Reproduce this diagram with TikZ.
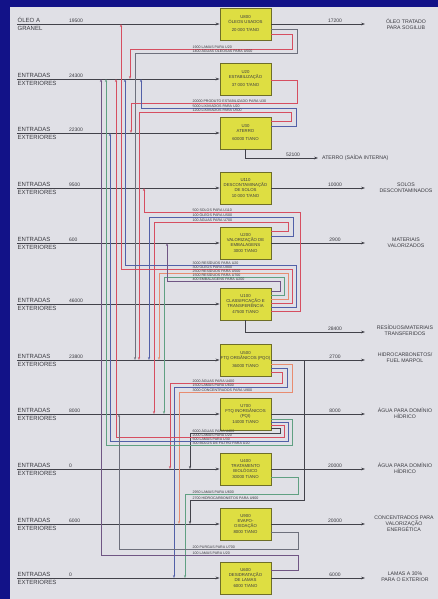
\documentclass[tikz,border=0pt]{standalone}
\usepackage{fontspec}
\setmainfont{Liberation Sans}
\usetikzlibrary{arrows.meta}
\definecolor{bgblue}{RGB}{18,18,136}
\definecolor{paper}{RGB}{224,224,230}
\definecolor{boxfill}{RGB}{222,222,66}
\definecolor{boxedge}{RGB}{110,110,40}
\definecolor{ln}{RGB}{66,66,74}
\definecolor{cred}{RGB}{214,78,96}
\definecolor{cblue}{RGB}{82,96,168}
\definecolor{cgreen}{RGB}{96,160,130}
\definecolor{cpurple}{RGB}{112,86,132}
\definecolor{corange}{RGB}{232,140,112}
\definecolor{cgray}{RGB}{110,112,124}
\definecolor{txt}{RGB}{58,58,64}
\newcommand{\flowline}[9]{%
  \draw[loopln,#1] (#2.east |- 0,#3) -- (#4,#3) -- (#4,#5) -- (#6,#5) -- (#6,0 |- #7);
  \node[lbl] (#9) at (192,#5) {#8};
}
\begin{document}
\begin{tikzpicture}[x=1pt,y=-1pt,
  unitbox/.style={draw=boxedge, line width=0.9pt, fill=boxfill, minimum width=51pt,
    minimum height=32pt, inner sep=0pt, align=center, text=txt,
    font=\fontsize{4.3}{5}\selectfont},
  mainln/.style={draw=ln, line width=0.85pt},
  arr/.style={-{Stealth[length=4pt,width=2.8pt]}},
  loopln/.style={line width=0.7pt,-{Stealth[length=3pt,width=2.2pt]}},
  lbl/.style={font=\fontsize{3.6}{4}\selectfont, text=txt, inner sep=0.3pt, anchor=south west},
  inl/.style={font=\fontsize{6}{6.5}\selectfont, text=txt, inner sep=0.5pt},
  num/.style={font=\fontsize{5}{5.5}\selectfont, text=txt, inner sep=0.8pt, anchor=south},
  outl/.style={font=\fontsize{5.2}{6}\selectfont, text=txt, align=center, inner sep=0pt}]
\useasboundingbox (0,0) rectangle (438,599);
\fill[bgblue] (0,0) rectangle (438,599);
\fill[paper] (10,7) rectangle (438,599);

% units
\node[unitbox] (u1) at (245.5,24) {U800\\ÓLEOS USADOS\\[3pt]20 000 T/ANO};
\node[unitbox] (u2) at (245.5,79) {U20\\ESTABILIZAÇÃO\\[3pt]37 000 T/ANO};
\node[unitbox] (u3) at (245.5,133) {U30\\ATERRO\\[3pt]60000 T/ANO};
\node[unitbox] (u4) at (245.5,188) {U110\\DESCONTAMINAÇÃO\\DE SOLOS\\[1.5pt]10 000 T/ANO};
\node[unitbox] (u5) at (245.5,243) {U200\\VALORIZAÇÃO DE\\EMBALAGENS\\[1.5pt]3000 T/ANO};
\node[unitbox] (u6) at (245.5,304) {U100\\CLASSIFICAÇÃO E\\TRANSFERÊNCIA\\[1.5pt]47500 T/ANO};
\node[unitbox] (u7) at (245.5,360) {U500\\FTQ ORGÂNICOS (PQO)\\[3pt]36000 T/ANO};
\node[unitbox] (u8) at (245.5,414) {U700\\FTQ INORGÂNICOS\\(PQI)\\[1.5pt]14000 T/ANO};
\node[unitbox] (u9) at (245.5,469) {U400\\TRATAMENTO\\BIOLÓGICO\\[1.5pt]30000 T/ANO};
\node[unitbox] (u10) at (245.5,524) {U900\\EVAPO-\\OXIDAÇÃO\\[1.5pt]8000 T/ANO};
\node[unitbox] (u11) at (245.5,578) {U600\\DESIDRATAÇÃO\\DE LAMAS\\[1.5pt]6000 T/ANO};

% inputs
\foreach \r/\yy/\nn in {1/24/19500,2/79/24300,3/133/22300,4/188/9500,5/243/600,6/304/46000,
                        7/360/23800,8/414/8000,9/469/0,10/524/6000,11/578/0}{
  \coordinate (in\r) at (17,\yy);
  \draw[mainln,arr] (in\r) -- (u\r.west);
  \node[num,anchor=south west] (n\r) at (68,\yy) {\nn};
}
\node[inl,anchor=south west] (la1) at (17,23) {ÓLEO A};
\node[inl,anchor=north west] (lb1) at (17,25.5) {GRANEL};
\foreach \r/\yy in {2/79,3/133,4/188,5/243,6/304,7/360,8/414,9/469,10/524,11/578}{
  \node[inl,anchor=south west] (la\r) at (17,\yy-1) {ENTRADAS};
  \node[inl,anchor=north west] (lb\r) at (17,\yy+1.5) {EXTERIORES};
}

% outputs
\foreach \r/\yy/\nn in {1/24/17200,4/188/10000,5/243/2900,7/360/2700,8/414/8000,9/469/20000,10/524/20000,11/578/6000}{
  \coordinate (out\r) at (365,\yy);
  \draw[mainln,arr] (u\r.east) -- (out\r);
  \node[num] (m\r) at (335,\yy) {\nn};
}
\coordinate (out3) at (318,158);
\draw[mainln,arr] (u3.south) -- (u3.south |- out3) -- (out3);
\node[num] (m3) at (293,158) {52100};
\node[outl,anchor=west] (o3) at (322,158) {ATERRO (SAÍDA INTERNA)};
\coordinate (out6) at (365,332);
\draw[mainln,arr] (u6.south) -- (u6.south |- out6) -- (out6);
\node[num] (m6) at (335,332) {28400};

\node[outl] (o1) at (406,24) {ÓLEO TRATADO\\PARA SOGILUB};
\node[outl] (o4) at (406,188) {SOLOS\\DESCONTAMINADOS};
\node[outl] (o5) at (406,243) {MATERIAIS\\VALORIZADOS};
\node[outl] (o6) at (405,330) {RESÍDUOS/MATERIAIS\\TRANSFERIDOS};
\node[outl] (o7) at (405,358) {HIDROCARBONETOS/\\FUEL MARPOL};
\node[outl] (o8) at (405,413) {ÁGUA PARA DOMÍNIO\\HÍDRICO};
\node[outl] (o9) at (405,468) {ÁGUA PARA DOMÍNIO\\HÍDRICO};
\node[outl] (o10) at (404,524) {CONCENTRADOS PARA\\VALORIZAÇÃO\\ENERGÉTICA};
\node[outl] (o11) at (405,577) {LAMAS A 30\%\\PARA O EXTERIOR};

% internal flows
\flowline{cred}{u1}{34}{292}{49}{130}{in2}{1900 LAMAS PARA U20}{f1}
\flowline{cgray}{u1}{29}{297}{53}{135}{in7}{1400 ÁGUAS OLEOSAS PARA U500}{f2}
\flowline{cred}{u2}{80}{297}{103}{131}{in3}{20000 PRODUTO ESTABILIZADO PARA U30}{f3}
\flowline{cblue}{u3}{126}{296}{108}{141}{in2}{5000 LIXIVIADOS PARA U20}{f4}
\flowline{cred}{u3}{121}{291}{112}{139}{in7}{1200 LIXIVIADOS PARA U500}{f5}
\flowline{cred}{u6}{311}{300}{212}{144}{in4}{500 SOLOS PARA U110}{f6}
\flowline{cblue}{u5}{236}{293}{217}{149}{in7}{100 ÓLEOS PARA U500}{f7}
\flowline{cred}{u5}{231}{288}{222}{154}{in8}{100 ÁGUAS PARA U700}{f8}
\flowline{cblue}{u6}{307}{296}{265}{125}{in2}{3000 RESÍDUOS PARA U20}{f9}
\flowline{cred}{u6}{303}{292}{269}{121}{in1}{300 ÓLEOS PARA U800}{f10}
\flowline{corange}{u6}{299}{288}{273}{159}{in7}{2500 RESÍDUOS PARA U500}{f11}
\flowline{cgreen}{u6}{295}{284}{277}{164}{in8}{1500 RESÍDUOS PARA U700}{f12}
\flowline{cpurple}{u6}{291}{280}{281}{167}{in5}{400 EMBALAGENS PARA U200}{f13}
\flowline{cred}{u7}{372}{282}{383}{170}{in9}{2000 ÁGUAS PARA U400}{f14}
\flowline{cblue}{u7}{368}{287}{387}{174}{in11}{1500 LAMAS PARA U600}{f15}
\flowline{corange}{u7}{364}{292}{392}{179}{in10}{3000 CONCENTRADOS PARA U900}{f16}
\flowline{ln}{u8}{428}{280}{433}{190}{in9}{6000 ÁGUAS PARA U400}{f23}
\flowline{cred}{u8}{425}{284}{437}{116}{in2}{2000 LAMAS PARA U20}{f17}
\flowline{cblue}{u8}{422}{288}{441}{110}{in3}{500 LAMAS PARA U30}{f18}
\flowline{cgreen}{u8}{419}{292}{445}{106}{in2}{300 BOLOS DE FILTRO PARA U20}{f19}
\flowline{cgreen}{u9}{477}{298}{494}{185}{in11}{2950 LAMAS PARA U600}{f24}
\flowline{cgray}{u10}{532}{298}{549}{119}{in8}{200 PURGAS PARA U700}{f21}
\flowline{cpurple}{u11}{570}{298}{555}{101}{in2}{100 LAMAS PARA U20}{f22}
\coordinate (br7) at (304,360);
\draw[loopln,ln] (br7) -- (304,500) -- (190,500) -- (190,0 |- in10);
\node[lbl] (f25) at (192,500) {2700 HIDROCARBONETOS PARA U900};
\end{tikzpicture}
\end{document}
